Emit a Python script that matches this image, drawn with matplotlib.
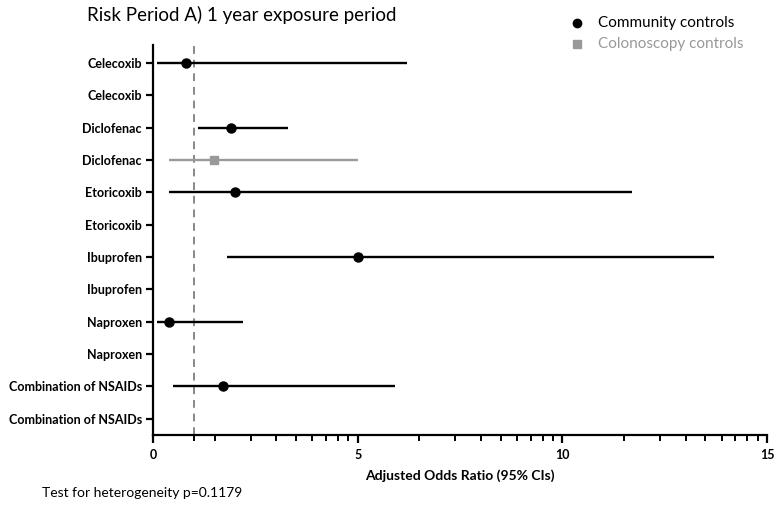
import numpy as np
import matplotlib
matplotlib.use("Agg")
import matplotlib.pyplot as plt
from matplotlib.lines import Line2D

labels = ["Celecoxib", "Celecoxib", "Diclofenac", "Diclofenac", "Etoricoxib", "Etoricoxib",
          "Ibuprofen", "Ibuprofen", "Naproxen", "Naproxen", "Combination of NSAIDs", "Combination of NSAIDs"]

# Community controls (rows 0,2,4,6,8,10)
comm_rows = [0, 2, 4, 6, 8, 10]
comm_or = [0.8, 1.9, 2.0, 5.0, 0.4, 1.7]
comm_lo = [0.1, 1.1, 0.4, 1.8, 0.1, 0.5]
comm_hi = [6.2, 3.3, 11.7, 13.7, 2.2, 5.9]

# Colonoscopy controls
colo_rows = [3]
colo_or = [1.5]
colo_lo = [0.4]
colo_hi = [5.0]

xticks = [0, 5, 10, 15]
series_names = ["Community controls", "Colonoscopy controls"]

plt.rcParams['font.family'] = ['Lato', 'DejaVu Sans']

fig = plt.figure(figsize=(7.78, 5.07), dpi=100)
ax = fig.add_axes([0.1967, 0.142, 0.7892, 0.769])

black = "#000000"
grey = "#999999"

ax.hlines(comm_rows, comm_lo, comm_hi, color=black, lw=1.7, zorder=3)
ax.plot(comm_or, comm_rows, 'o', color=black, ms=6.5, zorder=4)
ax.hlines(colo_rows, colo_lo, colo_hi, color=grey, lw=1.7, zorder=3)
ax.plot(colo_or, colo_rows, 's', color=grey, ms=6.2, zorder=4)

ax.axvline(1, color="#888888", lw=1.4, ls=(0, (4, 3)), zorder=2)

ax.set_xlim(0, 15)
ax.set_ylim(11.5, -0.55)
ax.set_yticks(range(len(labels)))
ax.set_yticklabels(labels, fontsize=9, fontweight='bold')
ax.set_xticks(xticks)
ax.set_xticklabels([str(t) for t in xticks], fontsize=9, fontweight='bold')
minor = [1.0]
for base in [0, 5, 10]:
    minor += [base + 5 * np.log10(k) for k in range(2, 10)]
ax.set_xticks(minor, minor=True)

for s in ["top", "right"]:
    ax.spines[s].set_visible(False)
for s in ["left", "bottom"]:
    ax.spines[s].set_linewidth(1.6)
ax.tick_params(axis='y', length=5, width=1.6, pad=3)
ax.tick_params(axis='x', which='major', length=6, width=1.6, pad=4)
ax.tick_params(axis='x', which='minor', length=4, width=1.4)

ax.set_xlabel("Adjusted Odds Ratio (95% CIs)", fontsize=10, fontweight='bold', labelpad=6)

fig.text(87 / 778, 1 - 15 / 507, "Risk Period A) 1 year exposure period", fontsize=13.5, va='center', ha='left')
fig.text(42 / 778, 1 - 493 / 507, "Test for heterogeneity p=0.1179", fontsize=10, va='center', ha='left')

# legend (manually placed)
fig.add_artist(Line2D([577 / 778], [1 - 23 / 507], marker='o', ls='none', color=black, ms=6,
                      transform=fig.transFigure))
fig.add_artist(Line2D([577 / 778], [1 - 44 / 507], marker='s', ls='none', color=grey, ms=5.5,
                      transform=fig.transFigure))
fig.text(598 / 778, 1 - 23 / 507, series_names[0], fontsize=11, va='center', ha='left', color=black)
fig.text(598 / 778, 1 - 44 / 507, series_names[1], fontsize=11, va='center', ha='left', color=grey)

fig.savefig("out.png", dpi=100)
